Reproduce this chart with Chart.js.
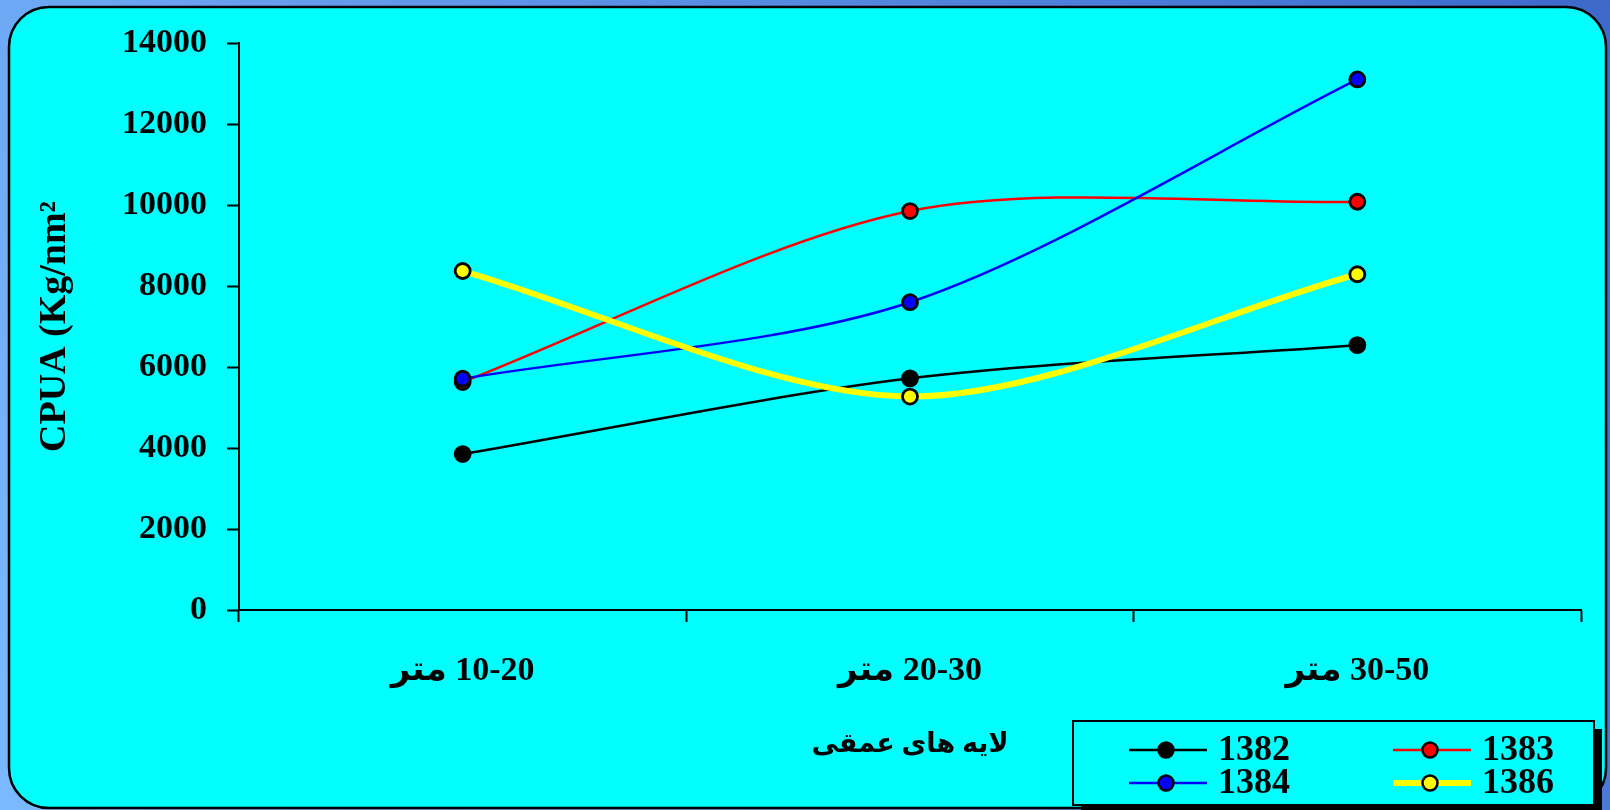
<!DOCTYPE html>
<html>
<head>
<meta charset="utf-8">
<script src="https://cdn.jsdelivr.net/npm/chart.js@4.4.1/dist/chart.umd.min.js"></script>
<style>
  html, body { margin: 0; padding: 0; background: #5a8de0; }
  canvas { display: block; }
</style>
</head>
<body>
<canvas id="canvas" width="1610" height="810"></canvas>
<script>
// depth layers (visual order: "متر" on the left, range on the right)
let depthLabels = ['متر \u200E10-20', 'متر \u200E20-30', 'متر \u200E30-50'];
let yearLabels = ['1382', '1383', '1384', '1386'];

let cpua1382 = [3850, 5720, 6540];
let cpua1383 = [5630, 9850, 10080];
let cpua1384 = [5710, 7600, 13100];
let cpua1386 = [8370, 5270, 8290];

let yTicks = [0, 2000, 4000, 6000, 8000, 10000, 12000, 14000];

const serif = '"Liberation Serif", "Times New Roman", "DejaVu Sans", serif';

// blue page + cyan rounded panel
const panelPlugin = {
  id: 'panel',
  beforeDraw(chart) {
    let c = chart.ctx;
    c.save();
    let g = c.createLinearGradient(0, 810, 1610, 0);
    g.addColorStop(0, '#7ab9ff');
    g.addColorStop(1, '#3d69cb');
    c.fillStyle = g;
    c.fillRect(0, 0, 1610, 810);
    c.beginPath();
    c.roundRect(9, 7, 1597, 801, 40);
    c.fillStyle = '#00ffff';
    c.fill();
    c.lineWidth = 2.5;
    c.strokeStyle = '#000';
    c.stroke();
    c.restore();
  }
};

// 2x2 legend box at the bottom right
const legendPlugin = {
  id: 'boxLegend',
  afterDraw(chart) {
    let c = chart.ctx;
    c.save();
    c.fillStyle = '#000';
    c.fillRect(1081, 729, 521, 84);
    c.fillStyle = '#00ffff';
    c.fillRect(1073, 721, 521, 84);
    c.lineWidth = 2;
    c.strokeStyle = '#000';
    c.strokeRect(1073, 721, 521, 84);

    let cols = [1129, 1393];
    let rows = [750, 783];
    chart.data.datasets.forEach(function(ds, i) {
      let x = cols[i % 2];
      let y = rows[Math.floor(i / 2)];
      c.beginPath();
      c.moveTo(x, y);
      c.lineTo(x + 78, y);
      c.strokeStyle = ds.borderColor;
      c.lineWidth = ds.borderWidth;
      c.stroke();
      c.beginPath();
      c.arc(x + 37, y, 7.5, 0, Math.PI * 2);
      c.fillStyle = ds.pointBackgroundColor;
      c.fill();
      c.lineWidth = 2.5;
      c.strokeStyle = '#000';
      c.stroke();
      c.fillStyle = '#000';
      c.font = 'bold 36px ' + serif;
      c.textBaseline = 'middle';
      c.textAlign = 'left';
      c.fillText(ds.label, x + 89, y + 1);
    });
    c.restore();
  }
};

function series(label, data, color, width, order) {
  return {
    label: label,
    data: data,
    borderColor: color,
    borderWidth: width,
    pointBackgroundColor: color,
    pointBorderColor: '#000',
    pointBorderWidth: 2.8,
    pointRadius: 7.5,
    pointHoverRadius: 7.5,
    tension: 0.3,
    order: order
  };
}

let ctx = document.getElementById('canvas').getContext('2d');
let chart = new Chart(ctx, {
  type: 'line',
  data: {
    labels: depthLabels,
    datasets: [
      series(yearLabels[0], cpua1382, '#000000', 2.5, 4),
      series(yearLabels[1], cpua1383, '#ff0000', 2.5, 3),
      series(yearLabels[2], cpua1384, '#0000ff', 2.5, 2),
      series(yearLabels[3], cpua1386, '#ffff00', 6, 1)
    ]
  },
  options: {
    responsive: false,
    animation: false,
    devicePixelRatio: 1,
    layout: { padding: { left: 10, right: 29, top: 43, bottom: 0 } },
    plugins: {
      legend: { display: false },
      tooltip: { enabled: false }
    },
    scales: {
      x: {
        offset: true,
        afterFit(scale) { scale.height = 200; },
        grid: {
          offset: true,
          drawOnChartArea: false,
          drawTicks: true,
          tickLength: 12,
          tickWidth: 2,
          tickColor: '#000'
        },
        border: { display: true, color: '#000', width: 2 },
        ticks: {
          color: '#000',
          padding: 29,
          maxRotation: 0,
          font: { family: serif, size: 34, weight: 'bold' }
        },
        title: {
          display: true,
          text: 'لایه های عمقی',
          color: '#000',
          padding: { top: 0, bottom: 49 },
          font: { family: serif, size: 27, weight: 'bold' }
        }
      },
      y: {
        min: 0,
        max: 14000,
        afterFit(scale) { scale.width = 229; },
        afterBuildTicks(scale) {
          scale.ticks = yTicks.map(function(v) { return { value: v }; });
        },
        grid: {
          drawOnChartArea: false,
          drawTicks: true,
          tickLength: 12,
          tickWidth: 2,
          tickColor: '#000'
        },
        border: { display: true, color: '#000', width: 2 },
        ticks: {
          color: '#000',
          padding: 20,
          font: { family: serif, size: 34, weight: 'bold' },
          callback: function(v) { return String(v); }
        },
        title: {
          display: true,
          text: 'CPUA (Kg/nm\u00B2',
          color: '#000',
          padding: { top: 22, bottom: 0 },
          font: { family: serif, size: 38, weight: 'bold' }
        }
      }
    }
  },
  plugins: [panelPlugin, legendPlugin]
});
</script>
</body>
</html>
